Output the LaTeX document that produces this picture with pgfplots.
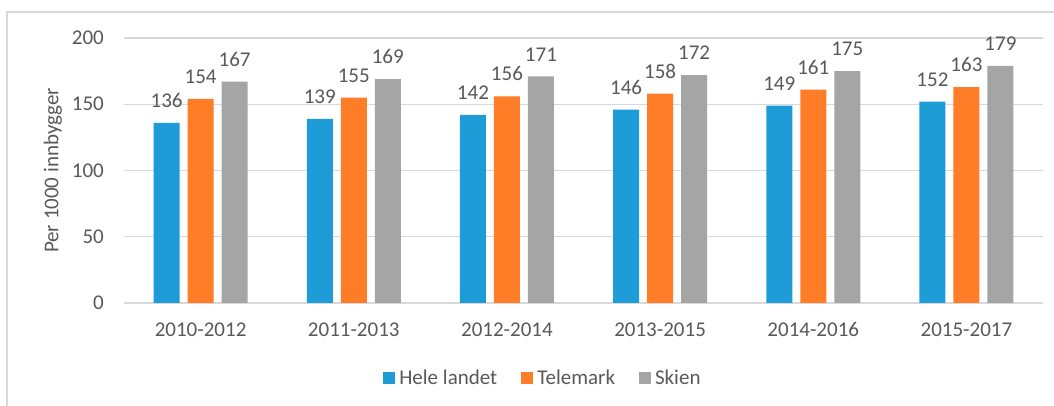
\documentclass[border=0pt]{standalone}
\usepackage{pgfplots}
\pgfplotsset{compat=1.18}
\usepackage{pgfplotstable}
\usepackage{fontspec}
\setmainfont{Carlito}
\definecolor{cblue}{RGB}{30,156,216}
\definecolor{corange}{RGB}{255,125,38}
\definecolor{cgray}{RGB}{165,165,165}
\definecolor{gridgray}{RGB}{217,217,217}
\definecolor{txt}{RGB}{89,89,89}
\pgfplotstableread{
x hele tele skien
0 136 154 167
1 139 155 169
2 142 156 171
3 146 158 172
4 149 161 175
5 152 163 179
}\datatable
\begin{document}
\begin{tikzpicture}
\useasboundingbox (0,0) rectangle (1054pt,406pt);
\fill[white] (0,0) rectangle (1054pt,406pt);
\draw[gridgray, line width=1.2pt] (7pt,0) -- (7pt,394pt) -- (1054pt,394pt);
\begin{axis}[
  at={(124pt,103pt)}, anchor=south west,
  scale only axis, width=919pt, height=265pt,
  ymin=0, ymax=200, xmin=-0.5, xmax=5.5,
  ytick={0,50,100,150,200},
  xtick={0,1,2,3,4,5},
  xticklabels={2010-2012,2011-2013,2012-2014,2013-2015,2014-2016,2015-2017},
  ybar=8pt, bar width=26pt,
  axis line style={draw=none},
  major tick length=0pt,
  ymajorgrids, grid style={gridgray, line width=1.3pt},
  /pgf/number format/assume math mode=true,
  tick label style={font=\fontsize{21}{25}\selectfont, text=txt, inner sep=0pt},
  yticklabel style={anchor=east, xshift=-20pt},
  xticklabel style={anchor=base, yshift=-34pt},
  ylabel={Per 1000 innbygger},
  every axis y label/.style={at={(axis description cs:0,0.5)}, xshift=-71pt, rotate=90, anchor=center, font=\fontsize{21}{25}\selectfont, text=txt},
  nodes near coords,
  every node near coord/.append style={font=\fontsize{21}{25}\selectfont, text=txt, anchor=south, inner sep=0pt, yshift=15pt},
  clip=false,
  legend columns=-1,
  legend style={at={(axis description cs:0.4548,-0.283)}, anchor=center, draw=none, fill=none,
    font=\fontsize{21}{25}\selectfont, text=txt,
    /tikz/every odd column/.style={column sep=4pt},
    /tikz/every even column/.style={column sep=24pt},
    nodes={inner sep=0pt}},
  legend image code/.code={\fill[#1] (0pt,-6pt) rectangle (12pt,6pt);},
]
\addplot[fill=cblue, draw=none] table[x=x, y=hele] {\datatable};
\addplot[fill=corange, draw=none] table[x=x, y=tele] {\datatable};
\addplot[fill=cgray, draw=none] table[x=x, y=skien] {\datatable};
\legend{Hele landet, Telemark, Skien}
\end{axis}
\end{tikzpicture}
\end{document}
